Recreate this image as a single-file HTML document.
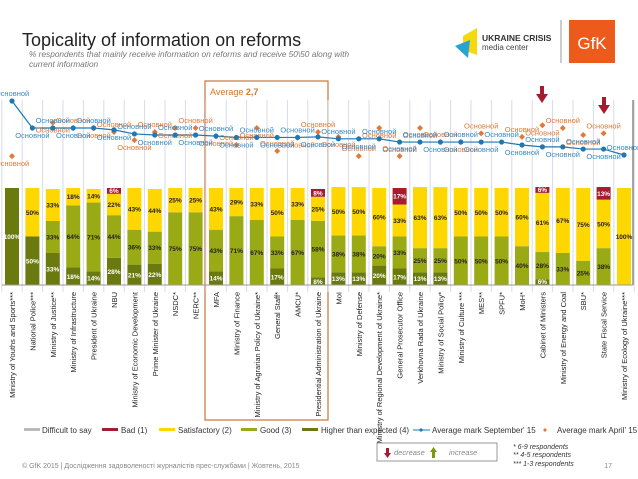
<!DOCTYPE html>
<html><head><meta charset="utf-8"><style>
body{margin:0;background:#fff;width:638px;height:479px;overflow:hidden;font-family:"Liberation Sans","Noto Sans CJK SC",sans-serif}
svg{display:block}
</style></head><body>
<svg id="chart" width="638" height="479" viewBox="0 0 638 479" xmlns="http://www.w3.org/2000/svg" font-family="Liberation Sans, sans-serif">
<text x="22" y="46" font-size="18" fill="#222">Topicality of information on reforms</text>
<text x="29" y="57" font-size="8.3" font-style="italic" fill="#777">% respondents that mainly receive information on reforms and receive 50\50 along with</text>
<text x="29" y="67" font-size="8.3" font-style="italic" fill="#777">current information</text>
<g>
<polygon points="463,36 477,28 477,55 463,50" fill="#f5d90a"/>
<polygon points="455,46 470,40 468,58" fill="#27a3d6"/>
<text x="482" y="41" font-size="8.5" font-weight="bold" fill="#333">UKRAINE CRISIS</text>
<text x="482" y="50" font-size="8" fill="#444">media center</text>
</g>
<line x1="561" y1="20" x2="561" y2="63" stroke="#999"/>
<g>
<rect x="569" y="20" width="46" height="43" fill="#ec5a1c"/>
<text x="592" y="49" font-size="17" fill="#fff" text-anchor="middle">GfK</text>
</g>
<rect x="205" y="81" width="123" height="339" fill="none" stroke="#c8743a" stroke-width="1.2"/>
<text x="210" y="95" font-size="9" fill="#d0782f">Average <tspan font-weight="bold">2,7</tspan></text>
<g id="grid"></g><g id="bars"></g><g id="lines"></g><g id="cats"></g>
<line x1="633" y1="100" x2="633" y2="285" stroke="#555"/>
<line x1="2" y1="285" x2="633" y2="285" stroke="#999"/>
<g fill="#a51c30">
<rect x="540" y="86" width="4" height="9"/><polygon points="536,94 548,94 542,103"/>
<rect x="602" y="97" width="4" height="9"/><polygon points="598,105 610,105 604,114"/>
</g>
<g font-size="8" fill="#333">
<rect x="24" y="428" width="16" height="3" fill="#bbb"/><text x="42" y="433">Difficult to say</text>
<rect x="102" y="428" width="16" height="3" fill="#a51c30"/><text x="121" y="433">Bad (1)</text>
<rect x="159" y="428" width="16" height="3" fill="#ffd700"/><text x="178" y="433">Satisfactory (2)</text>
<rect x="241" y="428" width="16" height="3" fill="#9aaa14"/><text x="260" y="433">Good (3)</text>
<rect x="302" y="428" width="16" height="3" fill="#6b7a0f"/><text x="321" y="433">Higher than expected (4)</text>
<line x1="413" y1="430" x2="430" y2="430" stroke="#1f77b4"/><circle cx="421" cy="430" r="1.6" fill="#1f77b4"/><text x="432" y="433">Average mark September' 15</text>
<circle cx="545" cy="430" r="1.6" fill="#e07a3a"/><text x="557" y="433">Average mark April' 15</text>
</g>
<g>
<rect x="377" y="443" width="120" height="18" fill="#fff" stroke="#999"/>
<polygon points="386,448 389,448 389,453 391,453 387.5,458 384,453 386,453" fill="#a51c30"/>
<text x="394" y="455" font-size="7.5" font-style="italic" fill="#888">decrease</text>
<polygon points="432,458 435,458 435,452 437,452 433.5,447 430,452 432,452" fill="#7a9a10"/>
<text x="449" y="455" font-size="7.5" font-style="italic" fill="#888">increase</text>
</g>
<g font-size="7" font-style="italic" fill="#333">
<text x="513" y="449">* 6-9 respondents</text><text x="513" y="457">** 4-5 respondents</text><text x="513" y="466">*** 1-3 respondents</text>
</g>
<text x="22" y="468" font-size="7" fill="#888">© GfK 2015 | Дослідження задоволеності журналістів прес-службами | Жовтень, 2015</text>
<text x="612" y="468" font-size="7" fill="#888" text-anchor="end">17</text>
</svg>
<script>
const categories=["Ministry of Youths and Sports***","National Police***","Ministry of Justice**","Ministry of Infrastructure","President of Ukraine","NBU","Ministry of Economic Development","Prime Minister of Ukraine","NSDC*","NERC**","MFA","Ministry of Finance","Ministry of Agrarian Policy of Ukraine*","General Staff*","AMCU*","Presidential Administration of Ukraine","MoI","Ministry of Defense","Ministry of Regional Development of Ukraine*","General Prosecutor Office","Verkhovna Rada of Ukraine","Ministry of Social Policy*","Ministry of Culture ***","MES**","SPFU*","MoH*","Cabinet of Ministers","Ministry of Energy and Coal","SBU*","State Fiscal Service","Ministry of Ecology of Ukraine***"];
const badVals=[0,0,0,0,0,6,0,0,0,0,0,0,0,0,0,8,0,0,0,17,0,0,0,0,0,0,6,0,0,13,0];
const satVals=[0,50,33,18,14,22,43,44,25,25,43,29,33,50,33,25,50,50,60,33,63,63,50,50,50,60,61,67,75,50,100];
const goodVals=[0,0,33,64,71,44,36,33,75,75,43,71,67,33,67,58,38,38,20,33,25,25,50,50,50,40,28,33,25,38,0];
const higherVals=[100,50,33,18,14,28,21,22,0,0,14,0,0,17,0,8,13,13,20,17,13,13,0,0,0,0,6,0,0,0,0];
const septMarks=[4.0,3.0,3.0,3.0,3.0,2.93,2.78,2.74,2.74,2.74,2.7,2.65,2.65,2.65,2.65,2.67,2.6,2.6,2.6,2.48,2.48,2.48,2.48,2.48,2.48,2.37,2.3,2.3,2.22,2.22,2.0];
const aprilMarks=[1.96,null,3.2,3.0,3.0,2.85,2.55,2.85,3.0,3.0,2.7,2.37,3.0,2.15,2.65,2.85,2.67,1.96,3.0,1.96,3.0,2.48,2.48,2.8,null,2.67,3.1,3.0,2.74,2.8,null];
const NS="http://www.w3.org/2000/svg";
const pitch=20.4,bw=14,x0=5,barTop=188,barBot=285;
const xs=i=>x0+i*pitch;
const xc=i=>xs(i)+bw/2;
const yPct=p=>(barBot-barTop)*p/100;
const yMark=v=>209-27*v;
function mk(tag,parent,attrs){const e=document.createElementNS(NS,tag);for(const k in attrs)e.setAttribute(k,attrs[k]);parent.appendChild(e);return e;}
const grid=document.getElementById('grid'),bars=document.getElementById('bars'),lines=document.getElementById('lines'),cats=document.getElementById('cats');
for(let i=0;i<=categories.length;i++){
  const gx=xs(i)-3.2;
  const g=mk('line',grid,{x1:gx,y1:100,x2:gx,y2:292,stroke:'#d6dbe8','stroke-width':1});
  
  
}
const segs=[[higherVals,'#6b7a0f','#fff'],[goodVals,'#9aaa14','#222'],[satVals,'#ffd700','#222'],[badVals,'#a51c30','#fff']];
categories.forEach((c,i)=>{
  let y=barBot;
  segs.forEach(([arr,col,tc])=>{
    const v=arr[i];if(!v)return;
    const h=yPct(v);y-=h;
    const r=mk('rect',bars,{x:xs(i),y:y,width:bw,height:h,fill:col});
    
    
    const t=mk('text',bars,{x:xc(i),y:(h<8?y+h-1:y+h/2+2.5),'font-size':6.5,'font-weight':'bold',fill:tc,'text-anchor':'middle'});
    t.textContent=v+'%';
    
    
  });
  const lbl=mk('text',cats,{transform:`translate(${xc(i)+3},292) rotate(-90)`,'font-size':7.5,fill:'#222','text-anchor':'end'});
  lbl.textContent=c;
  
  
});
let d='';septMarks.forEach((v,i)=>{d+=(i?'L':'M')+xc(i)+','+yMark(v);});
const pl=mk('path',lines,{d:d,fill:'none',stroke:'#1f77b4','stroke-width':1.2});


aprilMarks.forEach((v,i)=>{
  if(v===null)return;
  const y=yMark(v);
  const p=mk('path',lines,{d:`M${xc(i)},${y-3}L${xc(i)+3},${y}L${xc(i)},${y+3}L${xc(i)-3},${y}Z`,fill:'#e07a3a'});
  
  
  const t=mk('text',lines,{x:xc(i),y:(i%2?y-5:y+10),'font-size':7.5,fill:'#e07a3a','text-anchor':'middle'});
  t.textContent='Основной';
  
  
});
septMarks.forEach((v,i)=>{
  const y=yMark(v);
  const c=mk('circle',lines,{cx:xc(i),cy:y,r:2.6,fill:'#1f77b4'});
  
  
  const t=mk('text',lines,{x:xc(i),y:(i%2?y+10:y-5),'font-size':7.5,fill:'#3a8ac4','text-anchor':'middle'});
  t.textContent='Основной';
  
  
});
</script>
</body></html>
